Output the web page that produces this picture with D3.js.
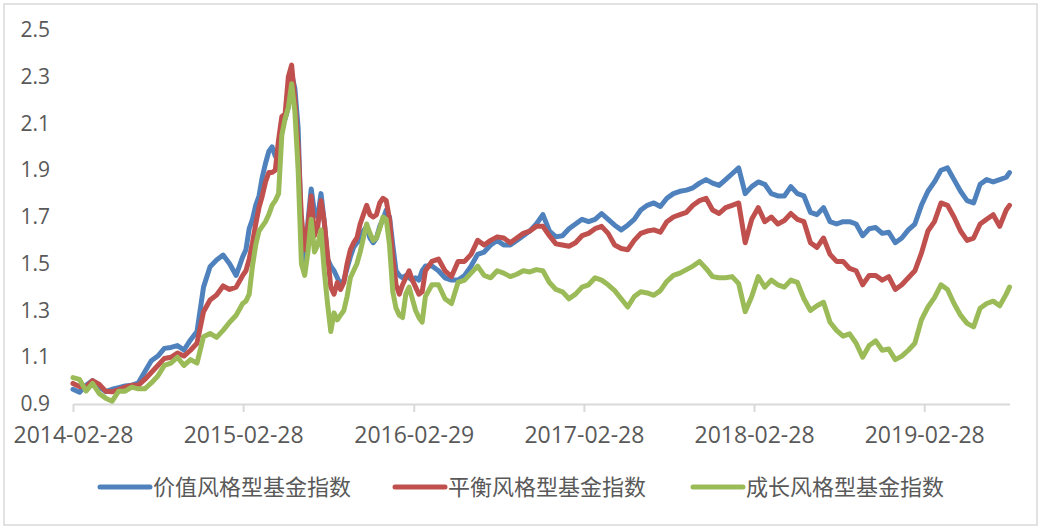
<!DOCTYPE html>
<html>
<head>
<meta charset="utf-8">
<script src="https://cdn.jsdelivr.net/npm/d3@7"></script>
<style>
  body { margin: 0; background: #fff; }
  svg { display: block; }
  .tick text { fill: #595959; font-family: "Open Sans", "Noto Sans", sans-serif; }
  .legend text { fill: #595959; font-family: "Noto Sans CJK SC", sans-serif; }
</style>
</head>
<body>
<div id="chart"></div>
<script>
// weekly fund index values (every two weeks outside 2015)
const dates = [
  "2014-02-28","2014-03-14","2014-03-28","2014-04-11","2014-04-25","2014-05-09","2014-05-23","2014-06-06","2014-06-20","2014-07-04",
  "2014-07-18","2014-08-01","2014-08-15","2014-08-29","2014-09-12","2014-09-26","2014-10-10","2014-10-24","2014-11-07","2014-11-21",
  "2014-12-05","2014-12-19","2015-01-02","2015-01-16","2015-01-30","2015-02-13",
  "2015-02-27","2015-03-06","2015-03-13","2015-03-20","2015-03-27","2015-04-03","2015-04-10","2015-04-17","2015-04-24","2015-05-01",
  "2015-05-08","2015-05-15","2015-05-22","2015-05-29","2015-06-05","2015-06-12","2015-06-19","2015-06-26","2015-07-03","2015-07-10",
  "2015-07-17","2015-07-24","2015-07-31","2015-08-07","2015-08-14","2015-08-21","2015-08-28","2015-09-04","2015-09-11","2015-09-18",
  "2015-09-25","2015-10-02","2015-10-09","2015-10-16","2015-10-23","2015-10-30","2015-11-06","2015-11-13","2015-11-20","2015-11-27",
  "2015-12-04","2015-12-11","2015-12-18","2015-12-25","2016-01-01","2016-01-08","2016-01-15","2016-01-22","2016-01-29","2016-02-05",
  "2016-02-12","2016-02-19","2016-02-26","2016-03-04","2016-03-11","2016-03-18","2016-03-25",
  "2016-04-08","2016-04-22","2016-05-06","2016-05-20","2016-06-03","2016-06-17","2016-07-01","2016-07-15","2016-07-29","2016-08-12",
  "2016-08-26","2016-09-09","2016-09-23","2016-10-07","2016-10-21","2016-11-04","2016-11-18","2016-12-02","2016-12-16","2016-12-30",
  "2017-01-13","2017-01-27","2017-02-10","2017-02-24","2017-03-10","2017-03-24","2017-04-07","2017-04-21",
  "2017-05-05","2017-05-19","2017-06-02","2017-06-16","2017-06-30","2017-07-14","2017-07-28","2017-08-11","2017-08-25","2017-09-08",
  "2017-09-22","2017-10-06","2017-10-20","2017-11-03","2017-11-17","2017-12-01","2017-12-15","2017-12-29","2018-01-12","2018-01-26",
  "2018-02-09","2018-02-23","2018-03-09","2018-03-23","2018-04-06","2018-04-20","2018-05-04","2018-05-18","2018-06-01","2018-06-15",
  "2018-06-29","2018-07-13","2018-07-27","2018-08-10","2018-08-24","2018-09-07","2018-09-21","2018-10-05","2018-10-19","2018-11-02",
  "2018-11-16","2018-11-30","2018-12-14","2018-12-28","2019-01-11","2019-01-25","2019-02-08","2019-02-22","2019-03-08","2019-03-22",
  "2019-04-05","2019-04-19","2019-05-03","2019-05-17","2019-05-31","2019-06-14","2019-06-28","2019-07-12","2019-07-26","2019-08-09",
  "2019-08-23","2019-08-30"
];

const valueIndex = [
  0.963, 0.95, 0.98, 1.0, 0.974, 0.953, 0.963, 0.97, 0.977, 0.98, 0.99, 1.038, 1.085, 1.105, 1.138, 1.142, 1.15, 1.131, 1.174, 1.21,
  1.40, 1.487, 1.516, 1.537, 1.50, 1.45,
  1.53, 1.56, 1.65, 1.69, 1.75, 1.79, 1.87, 1.93, 1.98, 2.0, 1.96, 1.98, 2.11, 2.12, 2.17, 2.31, 2.25, 2.08, 1.62, 1.47,
  1.68, 1.82, 1.72, 1.70, 1.80, 1.68, 1.52, 1.49, 1.47, 1.44, 1.41, 1.43, 1.48, 1.53, 1.57, 1.59, 1.60, 1.64, 1.66, 1.61,
  1.59, 1.61, 1.66, 1.69, 1.73, 1.70, 1.58, 1.47, 1.45, 1.44, 1.45, 1.44, 1.43, 1.44, 1.43, 1.47, 1.49,
  1.49, 1.47, 1.44, 1.43, 1.43, 1.45, 1.49, 1.54, 1.55, 1.58, 1.60, 1.58, 1.58, 1.60, 1.62, 1.64, 1.67, 1.71, 1.64, 1.615,
  1.62, 1.65, 1.67, 1.69, 1.68, 1.69, 1.715, 1.69,
  1.665, 1.645, 1.665, 1.69, 1.73, 1.75, 1.76, 1.745, 1.78, 1.80, 1.81, 1.815, 1.825, 1.845, 1.86, 1.845, 1.835, 1.86, 1.885, 1.91,
  1.80, 1.83, 1.85, 1.84, 1.80, 1.79, 1.79, 1.83, 1.80, 1.79,
  1.72, 1.71, 1.74, 1.68, 1.67, 1.68, 1.68, 1.67, 1.62, 1.65, 1.655, 1.63, 1.635, 1.59, 1.61, 1.645, 1.67, 1.75, 1.81, 1.85,
  1.90, 1.91, 1.86, 1.81, 1.77, 1.76, 1.84, 1.86, 1.85, 1.86, 1.87, 1.89
];

const balancedIndex = [
  0.988, 0.975, 0.972, 1.0, 0.985, 0.955, 0.952, 0.962, 0.972, 0.98, 0.98, 1.005, 1.035, 1.065, 1.095, 1.10, 1.118, 1.105, 1.13, 1.16,
  1.295, 1.345, 1.366, 1.405, 1.39, 1.40,
  1.45, 1.47, 1.52, 1.59, 1.67, 1.74, 1.79, 1.85, 1.89, 1.89, 1.90, 2.03, 2.13, 2.14, 2.30, 2.35, 2.20, 2.0, 1.70, 1.56,
  1.66, 1.79, 1.62, 1.66, 1.77, 1.68, 1.54, 1.40, 1.37, 1.42, 1.39, 1.42, 1.50, 1.56, 1.59, 1.61, 1.67, 1.71, 1.75, 1.71,
  1.70, 1.71, 1.76, 1.78, 1.77, 1.69, 1.53, 1.41, 1.37, 1.41, 1.44, 1.47, 1.43, 1.40, 1.37, 1.38, 1.47,
  1.51, 1.52, 1.47, 1.445, 1.51, 1.51, 1.54, 1.60, 1.58, 1.60, 1.615, 1.61, 1.59, 1.61, 1.63, 1.64, 1.66, 1.66, 1.62, 1.585,
  1.58, 1.575, 1.59, 1.62, 1.63, 1.65, 1.66, 1.63,
  1.58, 1.565, 1.56, 1.60, 1.63, 1.64, 1.645, 1.635, 1.68, 1.70, 1.71, 1.72, 1.75, 1.77, 1.78, 1.73, 1.715, 1.74, 1.75, 1.76,
  1.59, 1.69, 1.74, 1.68, 1.70, 1.67, 1.685, 1.715, 1.69, 1.68,
  1.59, 1.57, 1.61, 1.54, 1.51, 1.51, 1.48, 1.47, 1.41, 1.45, 1.45, 1.43, 1.445, 1.39, 1.41, 1.44, 1.47, 1.545, 1.64, 1.68,
  1.76, 1.75, 1.70, 1.64, 1.60, 1.61, 1.67, 1.69, 1.71, 1.66, 1.73, 1.75
];

const growthIndex = [
  1.013, 1.005, 0.955, 0.988, 0.945, 0.925, 0.912, 0.955, 0.955, 0.972, 0.965, 0.965, 0.99, 1.02, 1.065, 1.075, 1.10, 1.065, 1.09, 1.075,
  1.188, 1.202, 1.185, 1.215, 1.25, 1.28,
  1.33, 1.34, 1.37, 1.49, 1.58, 1.64, 1.66, 1.68, 1.71, 1.75, 1.77, 1.80, 2.05, 2.12, 2.17, 2.27, 2.15, 1.90, 1.50, 1.45,
  1.55, 1.69, 1.55, 1.58, 1.645, 1.47, 1.33, 1.21, 1.29, 1.26, 1.28, 1.30, 1.36, 1.44, 1.47, 1.50, 1.55, 1.61, 1.67, 1.63,
  1.60, 1.61, 1.65, 1.70, 1.69, 1.58, 1.38, 1.31, 1.28, 1.27, 1.37, 1.40, 1.35, 1.30, 1.27, 1.25, 1.36,
  1.41, 1.41, 1.35, 1.33, 1.42, 1.43, 1.46, 1.49, 1.45, 1.44, 1.47, 1.46, 1.445, 1.455, 1.47, 1.465, 1.475, 1.47, 1.42, 1.39,
  1.38, 1.35, 1.37, 1.40, 1.41, 1.44, 1.43, 1.41,
  1.385, 1.35, 1.315, 1.36, 1.38, 1.375, 1.365, 1.385, 1.425, 1.45, 1.46, 1.475, 1.49, 1.51, 1.48, 1.445, 1.44, 1.44, 1.445, 1.415,
  1.295, 1.36, 1.445, 1.40, 1.43, 1.41, 1.40, 1.43, 1.42, 1.35,
  1.30, 1.32, 1.335, 1.25, 1.215, 1.19, 1.20, 1.16, 1.10, 1.15, 1.17, 1.13, 1.135, 1.09, 1.105, 1.13, 1.16, 1.26, 1.315, 1.355,
  1.41, 1.39, 1.33, 1.28, 1.245, 1.23, 1.31, 1.33, 1.34, 1.32, 1.37, 1.40
];

const seriesNames = ["价值风格型基金指数", "平衡风格型基金指数", "成长风格型基金指数"];
const seriesColours = ["#4f81bd", "#c0504d", "#9bbb59"];
const yTicks = [0.9, 1.1, 1.3, 1.5, 1.7, 1.9, 2.1, 2.3, 2.5];
const xTickDates = ["2014-02-28", "2015-02-28", "2016-02-29", "2017-02-28", "2018-02-28", "2019-02-28"];

const width = 1043;
const height = 532;
const parse = d3.timeParse("%Y-%m-%d");

const svg = d3.select("#chart")
  .append("svg")
  .attr("width", width)
  .attr("height", height);

// outer chart border
svg.append("rect")
  .attr("x", 4).attr("y", 4)
  .attr("width", 1033).attr("height", 521)
  .attr("fill", "#fff")
  .attr("stroke", "#d9d9d9")
  .attr("stroke-width", 1.5);

const x = d3.scaleTime()
  .domain([parse(dates[0]), parse(dates[dates.length - 1])])
  .range([73, 1009.5]);

const y = d3.scaleLinear()
  .domain([0.9, 2.5])
  .range([404, 30]);

// x axis
const xAxis = svg.append("g")
  .attr("transform", "translate(0,404)")
  .call(d3.axisBottom(x)
    .tickValues(xTickDates.map(parse))
    .tickFormat(d3.timeFormat("%Y-%m-%d"))
    .tickSize(8)
    .tickSizeOuter(0)
    .tickPadding(15));
xAxis.select(".domain").attr("stroke", "#d9d9d9").attr("stroke-width", 2);
xAxis.selectAll(".tick line").attr("stroke", "#d9d9d9").attr("stroke-width", 2);
xAxis.selectAll(".tick text").style("font-size", "23px");

// y axis, labels only
const yAxis = svg.append("g")
  .attr("transform", "translate(73,0)")
  .call(d3.axisLeft(y)
    .tickValues(yTicks)
    .tickFormat(d3.format(".1f"))
    .tickSize(0)
    .tickPadding(23));
yAxis.select(".domain").remove();
yAxis.selectAll(".tick text").style("font-size", "21px");

// lines
const allSeries = [valueIndex, balancedIndex, growthIndex];
const line = d3.line()
  .x((d, i) => x(parse(dates[i])))
  .y(d => y(d));

svg.selectAll(".series")
  .data(allSeries)
  .enter()
  .append("path")
  .attr("class", "series")
  .attr("d", d => line(d))
  .attr("fill", "none")
  .attr("stroke", (d, i) => seriesColours[i])
  .attr("stroke-width", 5)
  .attr("stroke-linejoin", "round")
  .attr("stroke-linecap", "round");

// legend
const legendX = [100, 395, 693];
const legend = svg.append("g").attr("class", "legend");
const items = legend.selectAll("g")
  .data(seriesNames)
  .enter()
  .append("g")
  .attr("transform", (d, i) => `translate(${legendX[i]},487)`);

items.append("line")
  .attr("x1", 0).attr("x2", 50)
  .attr("stroke", (d, i) => seriesColours[i])
  .attr("stroke-width", 5)
  .attr("stroke-linecap", "round");

items.append("text")
  .attr("x", 53)
  .attr("dy", "0.35em")
  .style("font-size", "22px")
  .text(d => d);
</script>
</body>
</html>
